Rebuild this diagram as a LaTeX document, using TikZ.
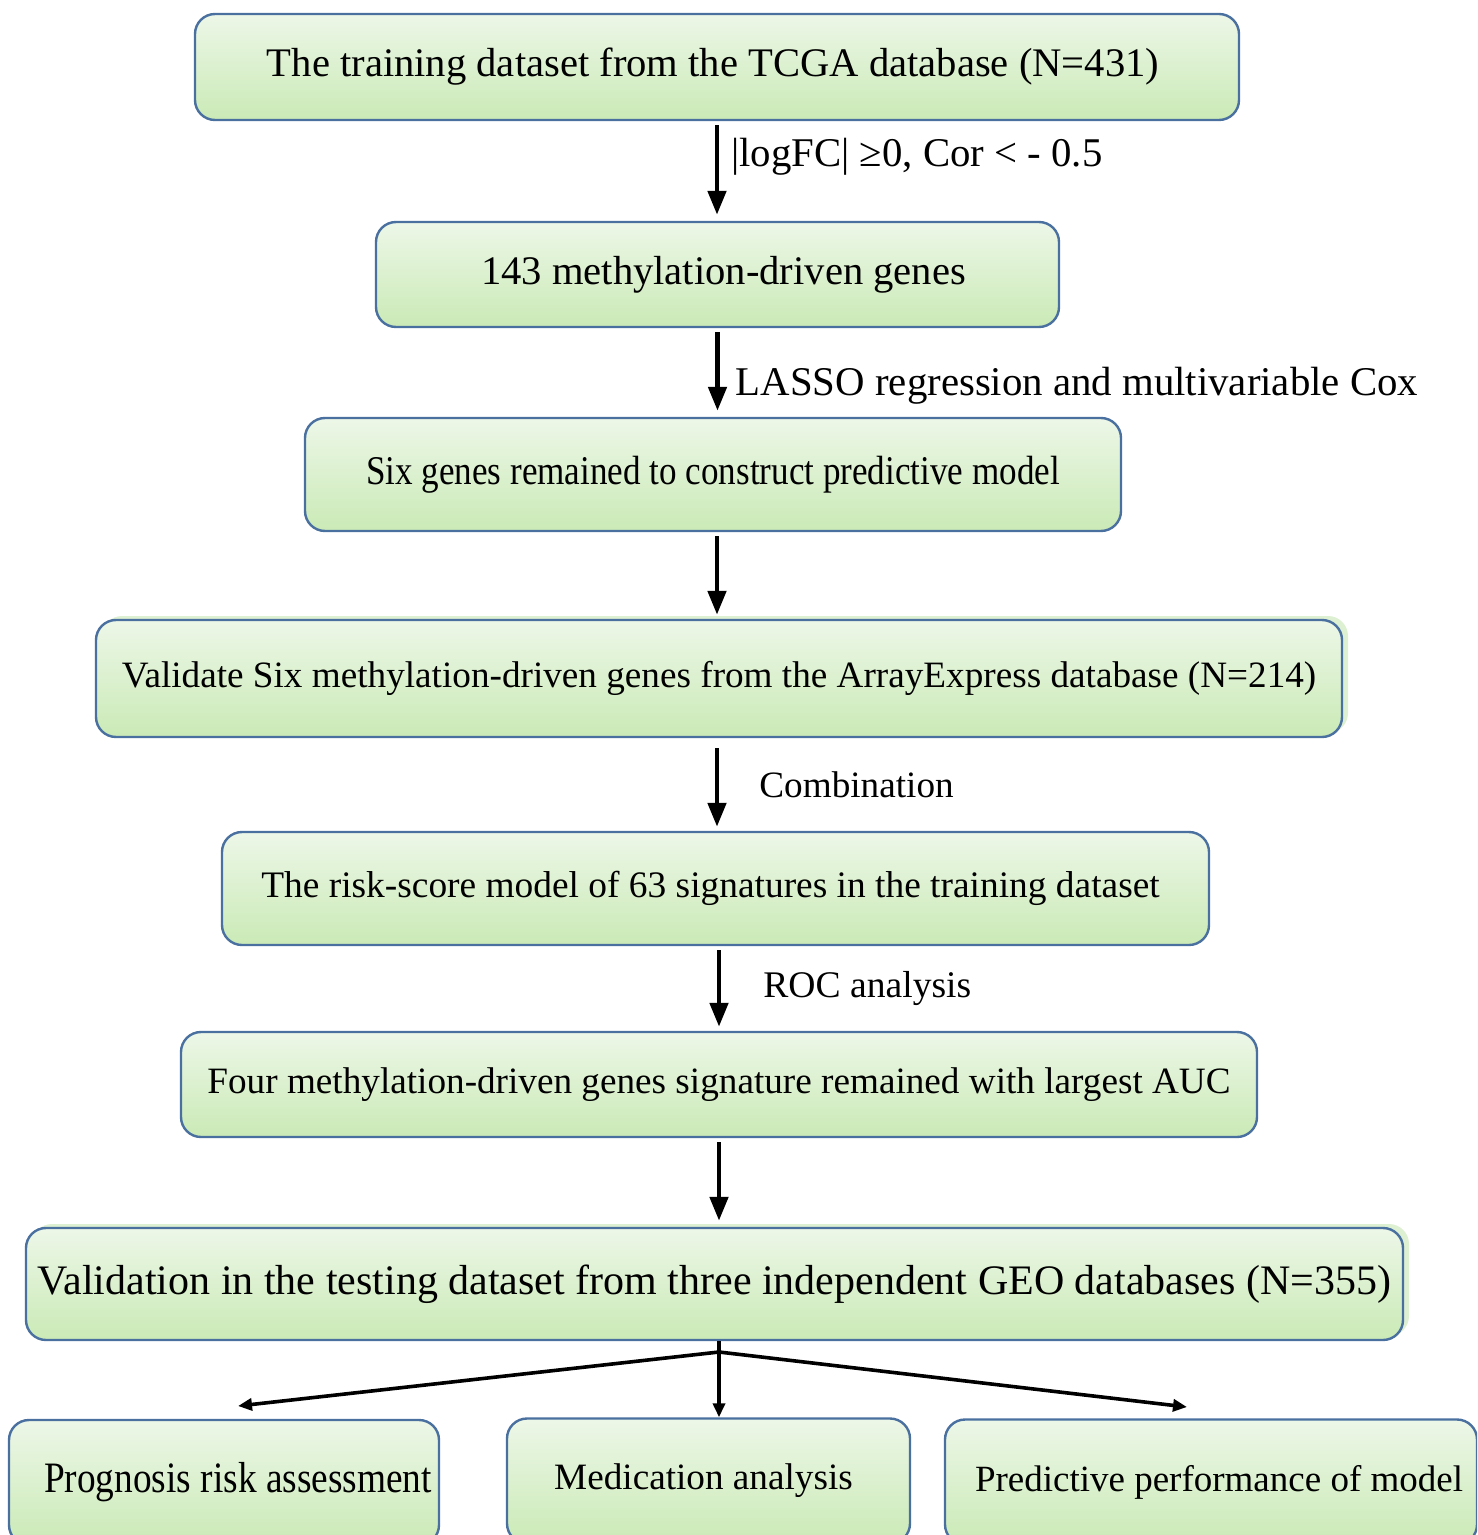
\documentclass[tikz,border=0pt]{standalone}
\usepackage{fontspec}
\setmainfont{Liberation Serif}
\newfontfamily\narrowfont[FakeStretch=0.86]{Liberation Serif}
\usetikzlibrary{arrows.meta}

\definecolor{boxblue}{HTML}{4A70A0}
\definecolor{boxtop}{HTML}{EDF7E8}
\definecolor{boxbot}{HTML}{CAEAB6}
\definecolor{glowc}{HTML}{DDF0D2}

\begin{document}
\begin{tikzpicture}[x=0.5pt,y=-0.5pt,
box/.style={draw=boxblue,line width=1.2pt,rounded corners=10pt,top color=boxtop,bottom color=boxbot,align=center,inner sep=0pt},
glow/.style={preaction={fill=glowc,rounded corners=10pt,transform canvas={xshift=3pt,yshift=2pt}}},
arr/.style={line width=2.4pt,-{Triangle[length=12pt,width=9pt]}},
arrs/.style={line width=1.8pt,-{Triangle[length=7pt,width=6pt]}},
lbl/.style={inner sep=0pt,anchor=west}]

\useasboundingbox (0,0) rectangle (1477,1535);
\clip (0,0) rectangle (1477,1535);

% boxes
\node[box,minimum width=522pt,minimum height=53pt,font=\fontsize{20.3}{24}\selectfont] (b1) at (717,67)
	{The training dataset from the TCGA database (N=431)\hspace*{4pt}};
\node[box,minimum width=341.5pt,minimum height=52.5pt,font=\fontsize{20.3}{24}\selectfont] (b2) at (717.5,274.5)
	{\hspace*{6pt}143 methylation-driven genes};
\node[box,minimum width=408pt,minimum height=56.5pt,font=\narrowfont\fontsize{20.4}{24}\selectfont] (b3) at (713,474.5)
	{Six genes remained to construct predictive model};
\node[box,glow,minimum width=623pt,minimum height=58.5pt,font=\fontsize{18.6}{22}\selectfont] (b4) at (719,678.5)
	{Validate Six methylation-driven genes from the ArrayExpress database (N=214)};
\node[box,minimum width=493.5pt,minimum height=56.5pt,font=\fontsize{18.7}{22}\selectfont] (b5) at (715.5,888.5)
	{The risk-score model of 63 signatures in the training dataset\hspace*{5pt}};
\node[box,minimum width=538pt,minimum height=52.5pt,font=\fontsize{18.6}{22}\selectfont] (b6) at (719,1084.5)
	{Four methylation-driven genes signature remained with largest AUC};
\node[box,glow,minimum width=688.5pt,minimum height=56pt,font=\fontsize{21}{25}\selectfont] (b7) at (714.5,1284)
	{Validation in the testing dataset from three independent GEO databases (N=355)};

\node[box,minimum width=215pt,minimum height=62.5pt,font=\narrowfont\fontsize{21.7}{26}\selectfont] (p1) at (224,1482.5)
	{\hspace*{14pt}Prognosis risk assessment};
\node[box,minimum width=201.5pt,minimum height=62.5pt,font=\fontsize{18.6}{22}\selectfont] (p2) at (708.5,1481)
	{Medication analysis\hspace*{5pt}};
\node[box,minimum width=266pt,minimum height=62.5pt,font=\fontsize{18.5}{22}\selectfont] (p3) at (1211,1482)
	{\hspace*{8pt}Predictive performance of model};

% arrows
\draw[arr,shorten <=2pt,shorten >=3pt] (b1.south) -- (b1.south |- b2.north)
	node[lbl,pos=.36,xshift=6pt,font=\fontsize{20.4}{24}\selectfont] {|logFC| ≥0, Cor < - 0.5};
\draw[arr,shorten <=2pt,shorten >=3pt] (b2.south) -- (b2.south |- b3.north)
	node[lbl,pos=.65,xshift=8pt,font=\fontsize{20.4}{24}\selectfont] {LASSO regression and multivariable Cox};
\draw[arr,shorten <=2pt,shorten >=2pt] (b3.south -| b1.south) -- (b1.south |- b4.north);
\draw[arr,shorten <=5pt,shorten >=2pt] (b4.south -| b1.south) -- (b1.south |- b5.north)
	node[lbl,pos=.5,xshift=20pt,font=\fontsize{18.6}{22}\selectfont] {Combination};
\draw[arr,shorten <=2pt,shorten >=2pt] (b5.south -| b6.south) -- (b6.north)
	node[lbl,pos=.5,xshift=21pt,font=\fontsize{18.8}{22}\selectfont] {ROC analysis};
\draw[arr,shorten <=2pt,shorten >=3pt] (b6.south) -- (b6.south |- b7.north);

% branch
\coordinate (br) at (719,1352);
\draw[line width=1.8pt] (b6.south |- b7.south) -- (br);
\draw[arrs] (br) -- (b6.south |- p2.north);
\draw[arrs] (br) -- (238,1406);
\draw[arrs] (br) -- (1187,1407);
\end{tikzpicture}
\end{document}
